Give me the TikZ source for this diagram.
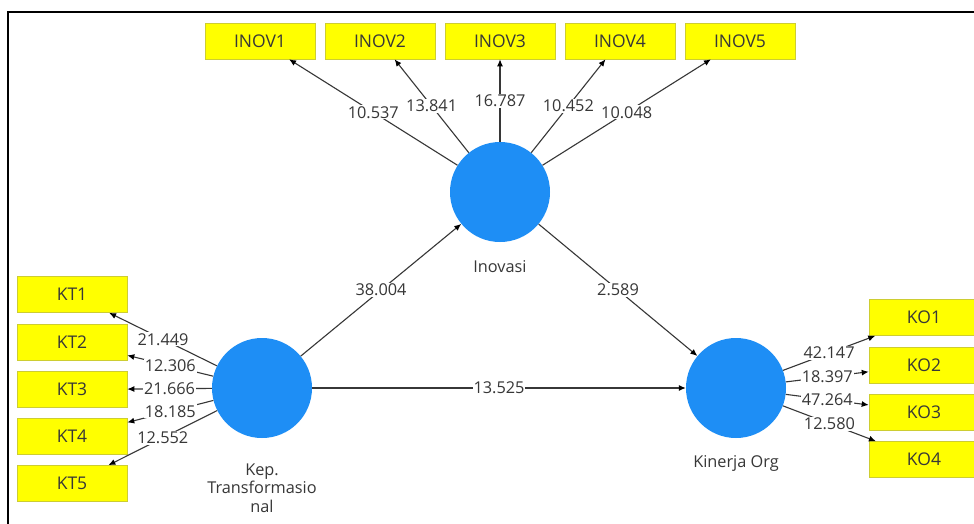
\documentclass[tikz,border=0pt]{standalone}
\usepackage{fontspec}
\newfontfamily\plsfont{Open Sans}
\usetikzlibrary{arrows.meta}
\definecolor{lvblue}{RGB}{30,142,245}
\definecolor{indyellow}{RGB}{255,255,0}
\definecolor{indedge}{RGB}{205,205,50}
\definecolor{txtgray}{RGB}{55,55,55}
\definecolor{linegray}{RGB}{55,55,55}
\begin{document}
\begin{tikzpicture}[x=1pt,y=-1pt,
 every node/.style={font=\plsfont\fontsize{16.3}{18.5}\selectfont, text=txtgray},
 ind/.style={draw=indedge, line width=0.6pt, fill=indyellow, minimum width=110pt, minimum height=36pt, inner sep=0pt, font=\plsfont\fontsize{17.5}{20}\selectfont},
 lv/.style={circle, fill=lvblue, draw=none, minimum size=100pt, inner sep=0pt},
 lvname/.style={align=center},
 conn/.style={draw=linegray, line width=1.1pt, -{Latex[length=7pt,width=6pt,color=black]}},
 val/.style={fill=white, inner sep=1pt, midway}
]
\useasboundingbox (0,0) rectangle (974,523);
\clip (0,0) rectangle (974,523);
\fill[white] (0,0) rectangle (974,523);
% frame
\draw[line width=1.6pt] (8,540) -- (8,12) -- (990,12);

% latent variables
\node[lv] (inov) at (500,192) {};
\node[lv] (kep) at (262,388) {};
\node[lv] (kin) at (736,388) {};
\node[lvname] (inovl) at (500,267) {Inovasi};
\node[lvname] (kepl) at (262,488) {Kep.\\Transformasio\\nal};
\node[lvname] (kinl) at (736,463) {Kinerja Org};

% indicators
\node[ind] (i1) at (260,41) {INOV1};
\node[ind] (i2) at (380,41) {INOV2};
\node[ind] (i3) at (500,41) {INOV3};
\node[ind] (i4) at (620,41) {INOV4};
\node[ind] (i5) at (740,41) {INOV5};

\node[ind] (kt1) at (72,294.5) {KT1};
\node[ind] (kt2) at (72,342) {KT2};
\node[ind] (kt3) at (72,389.5) {KT3};
\node[ind] (kt4) at (72,436.5) {KT4};
\node[ind] (kt5) at (72,483.5) {KT5};

\node[ind] (ko1) at (924,317.5) {KO1};
\node[ind] (ko2) at (924,365) {KO2};
\node[ind] (ko3) at (924,412) {KO3};
\node[ind] (ko4) at (924,459.5) {KO4};

% outer loadings
\draw[conn] (inov) -- node[val]{10.537} (i1);
\draw[conn] (inov) -- node[val]{13.841} (i2);
\draw[conn] (inov) -- node[val]{16.787} (i3);
\draw[conn] (inov) -- node[val]{10.452} (i4);
\draw[conn] (inov) -- node[val]{10.048} (i5);

\draw[conn] (kep) -- node[val]{21.449} (kt1);
\draw[conn] (kep) -- node[val]{12.306} (kt2);
\draw[conn] (kep) -- node[val]{21.666} (kt3);
\draw[conn] (kep) -- node[val]{18.185} (kt4);
\draw[conn] (kep) -- node[val]{12.552} (kt5);

\draw[conn] (kin) -- node[val]{42.147} (ko1);
\draw[conn] (kin) -- node[val]{18.397} (ko2);
\draw[conn] (kin) -- node[val]{47.264} (ko3);
\draw[conn] (kin) -- node[val]{12.580} (ko4);

% structural paths
\draw[conn] (kep) -- node[val]{38.004} (inov);
\draw[conn] (inov) -- node[val]{2.589} (kin);
\draw[conn] (kep) -- node[val]{13.525} (kin);
\end{tikzpicture}
\end{document}
